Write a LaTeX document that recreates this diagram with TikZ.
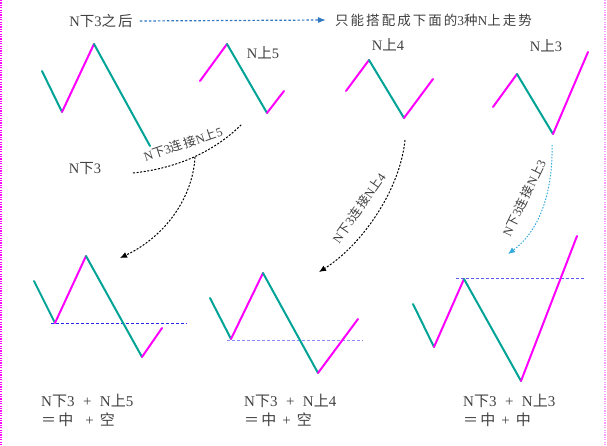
\documentclass[tikz,border=0pt]{standalone}
\usepackage{fontspec}
\setmainfont{Liberation Serif}[LetterSpace=15]
\newfontfamily\cjk{Noto Sans CJK SC}[LetterSpace=15]
\newcommand{\zh}[1]{{\cjk #1}}
\usetikzlibrary{calc,positioning,arrows.meta}
\definecolor{ZigTeal}{HTML}{00A396}
\definecolor{ZigMagenta}{HTML}{FF00FF}
\definecolor{TextGray}{HTML}{404040}
\definecolor{ArrowBlue}{HTML}{2F78C0}
\definecolor{ArrowCyan}{HTML}{33AADD}
\definecolor{LevelBlue}{HTML}{2626F0}
\definecolor{LevelLight}{HTML}{8C8CFF}
\definecolor{LevelMid}{HTML}{5A5AF5}

\begin{document}
\begin{tikzpicture}[x=1pt,y=-1pt,line cap=round,line join=round,
  up/.style={ZigMagenta,line width=2pt},
  down/.style={ZigTeal,line width=2pt},
  lbl/.style={text=TextGray,font=\fontsize{14.5}{17}\selectfont,inner sep=1pt},
  sumlbl/.style={lbl,font=\fontsize{15}{19}\selectfont,anchor=north west,align=left},
  bendlbl/.style={lbl,font=\fontsize{12.5}{14}\selectfont},
  level/.style={dash pattern=on 3pt off 2pt,line cap=butt,line width=1pt},
  link/.style={dash pattern=on 2pt off 1.6pt,line cap=butt,line width=1pt,-{Latex[length=7pt,width=6pt]}}]
  \useasboundingbox (0,0) rectangle (607,446);
  \draw[ZigMagenta,dash pattern=on 1.2pt off 1.2pt,line cap=butt,line width=1.5pt] (1,0)--(1,446);
  \draw[ZigMagenta!40,dash pattern=on 1.2pt off 1.2pt,line cap=butt,line width=1.2pt] (605,0)--(605,446);
  % top row
  \node[lbl] (after) at (101,21) {N\zh{下}3\zh{之后}};
  \node[lbl,font=\fontsize{13.5}{16}\selectfont,anchor=west] (only) at (334,20) {\zh{只能搭配成下面的}3\zh{种}N\zh{上走势}};
  \draw[ArrowBlue,dash pattern=on 2.5pt off 2pt,line cap=butt,line width=1.2pt,-{Latex[length=8pt,width=6pt]}] ($(after.east)+(6,0)$) -- ($(only.west)+(-8,0)$);
  \coordinate (P1a) at (42,71);\coordinate (P1b) at (62,112);\coordinate (P1c) at (94,44);\coordinate (P1d) at (150,146);
  \draw[down] (P1a)--(P1b);\draw[up] (P1b)--(P1c);\draw[down] (P1c)--(P1d);
  \coordinate (P2a) at (200,81);\coordinate (P2b) at (227,44);\coordinate (P2c) at (267,113);\coordinate (P2d) at (284,91);
  \draw[up] (P2a)--(P2b);\draw[down] (P2b)--(P2c);\draw[up] (P2c)--(P2d);
  \coordinate (P3a) at (346,91);\coordinate (P3b) at (369,60);\coordinate (P3c) at (404,118);\coordinate (P3d) at (433,79);
  \draw[up] (P3a)--(P3b);\draw[down] (P3b)--(P3c);\draw[up] (P3c)--(P3d);
  \coordinate (P4a) at (493,107);\coordinate (P4b) at (517,74);\coordinate (P4c) at (553,134);\coordinate (P4d) at (588,52);
  \draw[up] (P4a)--(P4b);\draw[down] (P4b)--(P4c);\draw[up] (P4c)--(P4d);
  \node[lbl] (n3) at (85,169) {N\zh{下}3};
  \node[lbl] (n5) at (263,53) {N\zh{上}5};
  \node[lbl] (n4) at (388,45) {N\zh{上}4};
  \node[lbl] (u3) at (546,46) {N\zh{上}3};
  % links
  \coordinate (L1a) at (133,173);\coordinate (L1b) at (242,124);\coordinate (L1c) at (195,157);\coordinate (L1d) at (120,258);
  \draw[dash pattern=on 2pt off 1.6pt,line cap=butt,line width=1pt] (L1a) .. controls (180,168) and (216,150) .. (L1b);
  \node[bendlbl,rotate=19] (t5) at (183,144) {N\zh{下}3\zh{连接}N\zh{上}5};
  \draw[link] (L1c) .. controls (193,195) and (168,235) .. (L1d);
  \coordinate (L2a) at (405,140);\coordinate (L2b) at (319,272);
  \draw[link] (L2a) .. controls (400,190) and (362,245) .. (L2b);
  \node[bendlbl,rotate=55] (t4) at (359,208) {N\zh{下}3\zh{连接}N\zh{上}4};
  \coordinate (L3a) at (552,145);\coordinate (L3b) at (508,254);
  \draw[link,ArrowCyan,dash pattern=on 1.5pt off 1.5pt] (L3a) .. controls (553,195) and (538,232) .. (L3b);
  \node[bendlbl,rotate=64] (t3) at (524,198) {N\zh{下}3\zh{连接}N\zh{上}3};
  % bottom row
  \coordinate (Q1a) at (34,281);\coordinate (Q1b) at (55,323);\coordinate (Q1c) at (86,256);\coordinate (Q1d) at (142,357);\coordinate (Q1e) at (162,328);
  \draw[level,LevelBlue] (51,323)--(187,323);
  \draw[down] (Q1a)--(Q1b);\draw[up] (Q1b)--(Q1c);\draw[down] (Q1c)--(Q1d);\draw[up] (Q1d)--(Q1e);
  \coordinate (Q2a) at (210,298);\coordinate (Q2b) at (231,339);\coordinate (Q2c) at (263,273);\coordinate (Q2d) at (318,373);\coordinate (Q2e) at (358,319);
  \draw[level,LevelLight] (227,340)--(363,340);
  \draw[down] (Q2a)--(Q2b);\draw[up] (Q2b)--(Q2c);\draw[down] (Q2c)--(Q2d);\draw[up] (Q2d)--(Q2e);
  \coordinate (Q3a) at (413,304);\coordinate (Q3b) at (434,347);\coordinate (Q3c) at (464,279);\coordinate (Q3d) at (521,381);\coordinate (Q3e) at (577,236);
  \draw[level,LevelMid] (456,278)--(585,278);
  \draw[down] (Q3a)--(Q3b);\draw[up] (Q3b)--(Q3c);\draw[down] (Q3c)--(Q3d);\draw[up] (Q3d)--(Q3e);
  \node[sumlbl] (sum5) at (40,393) {N\zh{下}3 \,+\, N\zh{上}5\\\zh{＝中}\ \ + \zh{空}};
  \node[sumlbl] (sum4) at (243,393) {N\zh{下}3 \,+\, N\zh{上}4\\\zh{＝中} + \zh{空}};
  \node[sumlbl] (sum3) at (462,393) {N\zh{下}3 \,+\, N\zh{上}3\\\zh{＝中} + \zh{中}};
\end{tikzpicture}
\end{document}
